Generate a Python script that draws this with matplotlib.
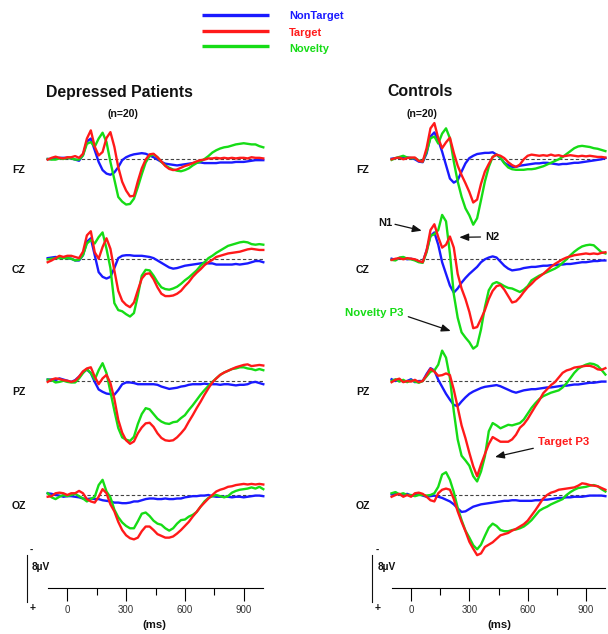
import numpy as np
import matplotlib
matplotlib.use("Agg")
import matplotlib.pyplot as plt

plt.rcParams['font.family'] = ['Liberation Sans', 'DejaVu Sans']
plt.rcParams['lines.scale_dashes'] = False

# ---------------- data (µV, negative plotted up) ----------------
time_ms = np.arange(-100, 1001, 20)
channels = ['FZ', 'CZ', 'PZ', 'OZ']
conditions = ['NonTarget', 'Target', 'Novelty']
groups = ['Depressed Patients', 'Controls']
group_n = ['(n=20)', '(n=20)']
tick_ms = [0, 300, 600, 900]
minor_tick_ms = [150, 450, 750]

dep_fz_nontarget = [0.0, 0.0, -0.1, -0.2, -0.2, -0.2, -0.1, 0.1,
                    0.3, -0.7, -3.0, -3.5, -1.5, 0.5, 1.9, 2.5,
                    2.7, 2.3, 1.4, 0.2, -0.3, -0.6, -0.8, -0.9,
                    -1.0, -0.9, -0.6, -0.3, 0.1, 0.5, 0.8, 0.9,
                    1.0, 1.1, 1.0, 0.9, 0.8, 0.7, 0.6, 0.6,
                    0.7, 0.7, 0.7, 0.7, 0.6, 0.6, 0.6, 0.6,
                    0.5, 0.5, 0.5, 0.4, 0.3, 0.2, 0.2, 0.2]
dep_fz_target = [0.1, -0.2, -0.4, -0.2, -0.1, -0.3, -0.3, -0.5,
                 -0.2, -0.9, -3.5, -4.9, -2.1, -0.6, -1.2, -3.6,
                 -4.6, -2.1, 1.4, 3.9, 5.4, 6.4, 6.3, 3.8,
                 1.6, 0.1, -0.8, -0.9, -0.3, 0.4, 1.2, 1.7,
                 1.9, 1.8, 1.5, 1.2, 1.0, 0.7, 0.4, 0.2,
                 0.1, -0.1, -0.1, -0.2, -0.1, -0.2, -0.1, -0.2,
                 -0.1, -0.2, -0.2, -0.1, -0.3, -0.2, -0.2, -0.1]
dep_fz_novelty = [0.0, 0.1, 0.1, -0.1, 0.0, -0.2, -0.1, 0.1,
                  0.1, -0.6, -2.6, -2.9, -2.1, -3.5, -4.5, -2.9,
                  0.5, 3.5, 6.5, 7.3, 7.8, 7.7, 6.8, 4.8,
                  2.6, 0.6, -0.5, -0.8, -0.3, 0.5, 1.1, 1.5,
                  1.8, 2.0, 2.1, 1.9, 1.6, 1.1, 0.7, 0.4,
                  0.0, -0.5, -1.1, -1.5, -1.8, -2.0, -2.1, -2.3,
                  -2.5, -2.6, -2.7, -2.6, -2.5, -2.5, -2.2, -2.0]

dep_cz_nontarget = [-0.2, -0.3, -0.4, -0.3, -0.3, -0.2, -0.1, 0.2,
                    0.2, -0.7, -3.0, -3.6, -0.7, 2.2, 3.0, 3.3,
                    3.0, 1.5, -0.2, -0.6, -0.7, -0.7, -0.6, -0.6,
                    -0.6, -0.5, -0.4, -0.2, 0.2, 0.6, 1.0, 1.4,
                    1.6, 1.5, 1.3, 1.1, 1.0, 0.9, 0.8, 0.7,
                    0.6, 0.7, 0.7, 0.9, 0.9, 0.9, 0.9, 0.9,
                    0.8, 0.9, 0.8, 0.7, 0.5, 0.3, 0.3, 0.5]
dep_cz_target = [0.5, 0.2, -0.2, -0.6, -0.4, -0.6, -0.6, -0.4,
                 -0.2, -1.3, -4.1, -4.8, -1.2, -0.1, -2.1, -3.6,
                 -1.8, 1.9, 5.4, 7.1, 7.8, 8.2, 7.4, 5.3,
                 3.3, 2.5, 2.4, 3.4, 4.8, 5.9, 6.3, 6.3,
                 6.2, 5.9, 5.4, 4.6, 3.9, 3.0, 2.3, 1.7,
                 1.0, 0.5, 0.1, -0.4, -0.6, -0.8, -1.0, -1.1,
                 -1.2, -1.3, -1.5, -1.7, -1.8, -1.7, -1.6, -1.6]
dep_cz_novelty = [0.0, -0.1, -0.2, -0.2, -0.2, -0.2, -0.1, 0.2,
                  0.1, -0.7, -2.7, -3.3, -2.7, -3.8, -4.6, -1.8,
                  1.5, 7.5, 8.7, 8.9, 9.4, 9.8, 9.2, 6.2,
                  2.8, 1.8, 1.9, 2.8, 3.9, 4.8, 5.1, 5.2,
                  5.0, 4.7, 4.2, 3.6, 3.1, 2.5, 1.9, 1.1,
                  0.5, -0.2, -0.6, -1.1, -1.5, -1.9, -2.3, -2.5,
                  -2.7, -2.9, -3.0, -2.9, -2.6, -2.5, -2.6, -2.5]

dep_pz_nontarget = [-0.3, -0.3, -0.2, -0.5, -0.3, -0.1, 0.1, -0.2,
                    -0.8, -1.6, -2.0, -1.4, 0.1, 1.4, 1.8, 2.1,
                    2.2, 2.3, 1.5, 0.5, 0.2, 0.2, 0.3, 0.5,
                    0.5, 0.5, 0.5, 0.5, 0.6, 0.9, 1.1, 1.3,
                    1.2, 1.1, 0.9, 0.8, 0.6, 0.5, 0.5, 0.5,
                    0.4, 0.5, 0.5, 0.5, 0.6, 0.5, 0.5, 0.6,
                    0.7, 0.6, 0.6, 0.5, 0.2, 0.1, 0.3, 0.5]
dep_pz_target = [0.1, -0.3, -0.5, -0.4, -0.2, -0.1, 0.1, -0.1,
                 -0.8, -1.7, -2.2, -2.4, -0.8, 0.5, -0.5, -1.1,
                 0.3, 3.0, 6.6, 8.8, 10.1, 10.7, 10.3, 8.9,
                 7.9, 7.2, 7.1, 7.8, 8.9, 9.7, 10.1, 10.2,
                 10.1, 9.6, 8.9, 8.1, 6.9, 5.8, 4.6, 3.5,
                 2.3, 1.2, 0.2, -0.5, -1.1, -1.5, -1.8, -2.1,
                 -2.4, -2.6, -2.8, -2.9, -2.6, -2.7, -2.8, -2.7]
dep_pz_novelty = [-0.3, -0.2, 0.2, 0.1, -0.1, 0.1, 0.2, 0.2,
                  -0.5, -1.4, -2.1, -1.4, -0.3, -1.9, -3.1, -1.4,
                  1.8, 5.0, 8.0, 9.6, 10.0, 10.2, 9.5, 7.3,
                  5.6, 4.6, 4.8, 5.6, 6.4, 6.9, 7.2, 7.3,
                  7.0, 6.9, 6.3, 5.8, 4.9, 4.1, 3.2, 2.3,
                  1.5, 0.8, 0.1, -0.5, -1.1, -1.5, -1.8, -2.1,
                  -2.2, -2.4, -2.4, -2.2, -2.1, -1.9, -2.1, -1.9]

dep_oz_nontarget = [-0.3, -0.2, 0.0, 0.1, 0.3, 0.2, 0.2, 0.3,
                    0.4, 0.6, 0.7, 0.6, 0.7, 0.7, 0.9, 1.0,
                    1.1, 1.3, 1.3, 1.4, 1.4, 1.3, 1.1, 1.1,
                    0.9, 0.7, 0.6, 0.6, 0.7, 0.7, 0.6, 0.7,
                    0.7, 0.6, 0.6, 0.4, 0.3, 0.2, 0.2, 0.1,
                    0.1, 0.0, 0.2, 0.3, 0.3, 0.3, 0.3, 0.4,
                    0.3, 0.3, 0.4, 0.3, 0.2, 0.1, 0.1, 0.2]
dep_oz_target = [0.3, 0.2, -0.3, -0.4, -0.3, 0.0, -0.3, -0.3,
                 -0.7, -0.3, 0.7, 1.1, 1.3, 0.3, -1.0, -0.3,
                 1.6, 2.8, 4.6, 6.0, 6.9, 7.4, 7.6, 7.3,
                 6.2, 5.4, 5.4, 6.0, 6.7, 7.0, 7.3, 7.3,
                 7.1, 6.6, 6.0, 5.3, 4.6, 3.7, 2.9, 2.0,
                 1.3, 0.6, 0.0, -0.6, -0.9, -1.1, -1.4, -1.5,
                 -1.7, -1.8, -1.9, -1.8, -1.9, -1.8, -1.9, -1.8]
dep_oz_novelty = [-0.3, 0.4, 0.7, 0.3, 0.0, 0.2, 0.0, -0.2,
                  0.2, 0.6, 1.1, 0.7, 0.3, -1.7, -2.6, -0.6,
                  0.4, 2.5, 3.8, 4.7, 5.3, 5.7, 5.7, 4.5,
                  3.2, 3.0, 3.6, 4.4, 4.9, 5.1, 5.7, 6.1,
                  5.7, 4.9, 4.3, 4.2, 3.7, 3.4, 2.9, 2.0,
                  1.1, 0.5, 0.2, 0.0, 0.2, 0.4, 0.2, -0.4,
                  -0.7, -0.9, -1.0, -1.1, -1.3, -1.1, -1.4, -1.0]

con_fz_nontarget = [0.0, -0.1, -0.2, -0.2, -0.2, -0.1, 0.1, 0.5,
                    0.6, -0.9, -3.8, -4.5, -3.2, -1.2, 1.1, 3.4,
                    4.1, 3.7, 2.2, 0.8, -0.1, -0.5, -0.8, -0.9,
                    -1.0, -1.0, -1.1, -0.7, -0.1, 0.7, 1.1, 1.4,
                    1.4, 1.2, 1.1, 1.0, 0.9, 0.8, 0.8, 0.7,
                    0.7, 0.8, 0.9, 1.0, 0.9, 0.9, 0.8, 0.7,
                    0.7, 0.6, 0.5, 0.4, 0.3, 0.2, 0.1, -0.1]
con_fz_target = [0.1, -0.1, -0.2, 0.1, -0.1, -0.2, -0.2, 0.4,
                 0.5, -1.8, -5.2, -6.1, -3.5, -1.8, -2.8, -3.6,
                 -1.0, 1.2, 2.8, 4.2, 5.7, 7.5, 7.0, 4.3,
                 2.2, 0.9, -0.3, -0.7, -0.5, -0.1, 0.6, 1.1,
                 1.4, 1.0, 0.1, -0.5, -0.7, -0.6, -0.5, -0.6,
                 -0.5, -0.7, -0.5, -0.6, -0.4, -0.5, -0.6, -0.5,
                 -0.4, -0.5, -0.4, -0.5, -0.4, -0.3, -0.3, -0.2]
con_fz_novelty = [0.2, -0.1, -0.3, -0.5, -0.2, -0.1, -0.1, 0.3,
                  0.5, -1.2, -3.5, -3.8, -2.6, -4.3, -5.2, -3.5,
                  0.5, 3.9, 6.5, 8.5, 9.7, 11.3, 10.2, 7.1,
                  3.9, 1.4, -0.3, -0.7, -0.2, 0.8, 1.5, 1.8,
                  1.9, 1.9, 1.9, 1.8, 1.8, 1.7, 1.5, 1.3,
                  1.0, 0.7, 0.4, 0.1, -0.3, -0.8, -1.3, -1.8,
                  -2.1, -2.2, -2.1, -2.0, -1.8, -1.7, -1.5, -1.3]

con_cz_nontarget = [-0.1, 0.1, -0.2, -0.3, 0.0, -0.1, 0.1, 0.4,
                    0.5, -1.5, -4.0, -4.6, -2.5, 0.5, 2.5, 4.5,
                    5.7, 5.0, 4.0, 3.2, 2.5, 1.9, 1.3, 0.5,
                    0.0, -0.3, -0.5, -0.3, 0.4, 1.1, 1.6, 1.9,
                    1.8, 1.7, 1.5, 1.4, 1.3, 1.3, 1.2, 1.1,
                    1.1, 1.0, 1.0, 0.9, 0.9, 0.8, 0.8, 0.7,
                    0.6, 0.5, 0.5, 0.4, 0.3, 0.3, 0.2, 0.2]
con_cz_target = [0.1, -0.1, -0.2, 0.0, -0.2, -0.1, 0.0, 0.3,
                 0.5, -1.5, -5.0, -6.0, -3.8, -2.0, -2.5, -3.9,
                 -2.0, 2.5, 5.0, 6.8, 9.0, 11.8, 11.6, 10.2,
                 8.7, 6.8, 5.4, 4.6, 4.4, 5.2, 6.3, 7.4,
                 7.2, 6.5, 5.6, 4.8, 4.2, 3.5, 3.0, 2.5,
                 1.9, 1.3, 0.8, 0.4, 0.0, -0.3, -0.5, -0.7,
                 -0.8, -0.9, -1.0, -0.9, -1.0, -0.9, -1.1, -1.2]
con_cz_novelty = [0.1, 0.2, -0.3, -0.4, -0.1, 0.0, 0.2, 0.5,
                  0.6, -1.2, -4.0, -4.3, -5.0, -7.6, -6.5, -1.0,
                  6.0, 10.0, 12.5, 13.4, 14.2, 15.3, 14.8, 12.0,
                  8.2, 5.3, 4.2, 3.9, 4.2, 4.6, 4.9, 5.0,
                  5.3, 5.6, 5.2, 4.6, 3.6, 3.2, 2.8, 2.5,
                  2.2, 1.9, 1.6, 1.2, 0.6, 0.0, -0.7, -1.3,
                  -1.8, -2.2, -2.4, -2.5, -2.4, -1.8, -1.2, -1.0]

con_pz_nontarget = [-0.3, 0.0, -0.2, 0.1, 0.0, -0.3, 0.2, 0.0,
                    0.0, -1.2, -2.2, -1.8, -0.2, 1.0, 2.2, 3.2,
                    4.1, 4.3, 3.5, 2.8, 2.2, 1.8, 1.5, 1.2,
                    1.0, 0.9, 0.8, 0.7, 0.9, 1.2, 1.5, 1.8,
                    2.0, 1.8, 1.6, 1.5, 1.4, 1.4, 1.3, 1.2,
                    1.1, 1.1, 1.0, 0.9, 0.8, 0.8, 0.7, 0.6,
                    0.6, 0.5, 0.4, 0.3, 0.3, 0.2, 0.1, 0.1]
con_pz_target = [0.2, -0.2, -0.4, 0.2, 0.0, 0.1, -0.2, 0.2,
                 0.0, -1.0, -2.1, -1.6, -0.9, -1.0, -1.3, -1.0,
                 1.5, 4.5, 7.6, 9.8, 12.3, 14.6, 16.3, 14.3,
                 12.5, 10.8, 9.6, 10.0, 10.4, 10.4, 10.4, 10.0,
                 9.2, 8.0, 7.4, 6.5, 5.4, 4.3, 3.3, 2.1,
                 1.4, 0.7, 0.2, -0.6, -1.4, -1.8, -2.0, -2.3,
                 -2.4, -2.5, -2.6, -2.6, -2.4, -2.0, -1.9, -2.2]
con_pz_novelty = [0.0, -0.3, 0.1, -0.2, 0.2, -0.1, 0.1, 0.3,
                  0.0, -0.8, -1.6, -1.8, -2.8, -5.2, -4.0, -0.5,
                  5.2, 10.0, 12.8, 13.6, 14.5, 16.3, 17.2, 15.5,
                  12.9, 8.6, 7.2, 7.6, 8.1, 7.8, 7.5, 7.6,
                  7.4, 7.2, 6.6, 5.6, 4.6, 3.8, 3.1, 2.6,
                  2.3, 2.0, 1.8, 1.6, 1.1, 0.4, -0.5, -1.4,
                  -2.1, -2.5, -2.8, -3.0, -2.9, -2.6, -1.9, -1.1]

con_oz_nontarget = [-0.1, -0.3, -0.1, 0.1, -0.2, 0.1, 0.0, -0.2,
                    0.1, 0.3, 0.2, 0.1, 0.3, 0.5, 0.8, 1.1,
                    1.6, 2.3, 2.9, 2.8, 2.4, 2.0, 1.8, 1.6,
                    1.5, 1.4, 1.3, 1.2, 1.1, 1.0, 1.0, 0.9,
                    0.9, 1.0, 1.0, 1.0, 1.0, 0.9, 0.9, 0.8,
                    0.8, 0.7, 0.6, 0.5, 0.5, 0.4, 0.4, 0.3,
                    0.3, 0.3, 0.2, 0.1, 0.1, 0.1, 0.1, 0.2]
con_oz_target = [0.3, 0.0, -0.2, 0.3, 0.0, 0.3, -0.3, -0.4,
                 -0.2, 0.3, 0.9, 1.1, -0.3, -0.9, -1.1, -0.9,
                 0.7, 2.8, 4.6, 6.2, 8.0, 9.2, 10.3, 10.0,
                 8.9, 8.5, 8.1, 7.5, 6.9, 6.7, 6.5, 6.1,
                 5.8, 5.4, 5.0, 4.4, 3.5, 2.6, 1.6, 0.6,
                 0.0, -0.4, -0.6, -0.9, -1.0, -1.1, -1.2, -1.3,
                 -1.6, -2.0, -1.9, -1.7, -1.6, -1.5, -1.2, -0.9]
con_oz_novelty = [-0.3, -0.5, -0.1, -0.3, 0.0, 0.0, 0.2, 0.0,
                  0.0, 0.1, 0.0, -0.3, -1.4, -3.5, -3.9, -2.6,
                  -0.5, 2.2, 4.3, 6.1, 7.3, 8.6, 9.3, 8.5,
                  7.0, 5.6, 4.9, 5.3, 6.0, 6.2, 6.2, 6.0,
                  5.9, 5.7, 5.4, 4.9, 4.3, 3.5, 2.7, 2.3,
                  2.0, 1.6, 1.3, 1.0, 0.7, 0.0, -0.5, -0.9,
                  -1.2, -1.3, -1.4, -1.6, -1.7, -1.5, -1.0, -0.6]

waves = {
    (0, 'FZ'): (dep_fz_nontarget, dep_fz_target, dep_fz_novelty),
    (0, 'CZ'): (dep_cz_nontarget, dep_cz_target, dep_cz_novelty),
    (0, 'PZ'): (dep_pz_nontarget, dep_pz_target, dep_pz_novelty),
    (0, 'OZ'): (dep_oz_nontarget, dep_oz_target, dep_oz_novelty),
    (1, 'FZ'): (con_fz_nontarget, con_fz_target, con_fz_novelty),
    (1, 'CZ'): (con_cz_nontarget, con_cz_target, con_cz_novelty),
    (1, 'PZ'): (con_pz_nontarget, con_pz_target, con_pz_novelty),
    (1, 'OZ'): (con_oz_nontarget, con_oz_target, con_oz_novelty),
}

# ---------------- styling / layout ----------------
W, H = 608, 634
BLUE, RED, GREEN = '#1a1aff', '#ff1a1a', '#16dc16'
COLORS = [BLUE, RED, GREEN]
ZORD = [2, 4, 3]
PX_PER_UV = 5.84
COL_X = [(47.7, 263.3), (391.6, 605.4)]
BASE_Y = [[159.0, 259.3, 381.3, 495.0], [158.7, 259.3, 381.0, 495.0]]
LABEL_X = [19.0, 363.0]
TITLE_X = [119.2, 420.3]
N_X = [122.5, 421.5]
SCALE_X = [26.7, 372.3]
MS_X = [154.7, 499.3]

fig = plt.figure(figsize=(W / 100, H / 100), dpi=100)
fig.patch.set_facecolor('white')


def px_axes(x0, y0, x1, y1):
    return fig.add_axes([x0 / W, 1 - y1 / H, (x1 - x0) / W, (y1 - y0) / H])


TOP_PX, BOT_PX = 70, 115
for gi in range(2):
    x0, x1 = COL_X[gi]
    for ci, ch in enumerate(channels):
        yb = BASE_Y[gi][ci]
        ax = px_axes(x0, yb - TOP_PX, x1, yb + BOT_PX)
        ax.set_xlim(-100, 1000)
        ax.set_ylim(BOT_PX / PX_PER_UV, -TOP_PX / PX_PER_UV)
        ax.axis('off')
        ax.patch.set_alpha(0)
        ax.axhline(0, color='#444444', lw=0.8, ls=(0, (2.4, 1.6)), zorder=1)
        for series, color, z in zip(waves[(gi, ch)], COLORS, ZORD):
            ax.plot(time_ms, series, color=color, lw=1.7, clip_on=False,
                    zorder=z, solid_joinstyle='round')

    # time axis
    axt = px_axes(x0, 578, x1, 588)
    axt.set_xlim(-100, 1000)
    axt.patch.set_alpha(0)
    for s in ['top', 'left', 'right']:
        axt.spines[s].set_visible(False)
    axt.spines['bottom'].set_linewidth(0.8)
    axt.set_yticks([])
    axt.set_xticks(tick_ms)
    axt.set_xticks(minor_tick_ms, minor=True)
    axt.set_xticklabels([str(v) for v in tick_ms])
    axt.tick_params(axis='x', which='major', direction='out', length=9.5,
                    width=0.8, pad=2.5, labelsize=7, labelcolor='#333333')
    axt.tick_params(axis='x', which='minor', direction='out', length=5,
                    width=0.8)

# ---------------- overlay (text, legend, arrows) ----------------
ov = fig.add_axes([0, 0, 1, 1])
ov.set_xlim(0, W)
ov.set_ylim(H, 0)
ov.axis('off')
ov.patch.set_alpha(0)

leg_y = [14.7, 31.3, 45.7]
leg_text_y = [18.7, 36.3, 52.0]
for name, col, ly, ty in zip(conditions, COLORS, leg_y, leg_text_y):
    ov.plot([201.7, 269.0], [ly, ly], color=col, lw=2.4, solid_capstyle='butt')
    ov.text(289.3, ty, name, color=col, fontsize=7.9, fontweight='bold',
            ha='left', va='baseline')

for gi in range(2):
    ov.text(TITLE_X[gi], 96.5, groups[gi], fontsize=11.4, fontweight='bold',
            ha='center', va='baseline', color='#111111')
    ov.text(N_X[gi], 117.0, group_n[gi], fontsize=7.6, fontweight='bold',
            ha='center', va='baseline', color='#111111')
    for ci, ch in enumerate(channels):
        ov.text(LABEL_X[gi], BASE_Y[gi][ci] + 14.0, ch, fontsize=7.6,
                fontweight='bold', ha='center', va='baseline', color='#111111')
    sx = SCALE_X[gi]
    ov.plot([sx, sx], [555.0, 601.7], color='#111111', lw=0.8)
    ov.text(sx + 5.0, 549.5, '-', fontsize=7, fontweight='bold',
            ha='center', va='center', color='#111111')
    ov.text(sx + 5.6, 608.0, '+', fontsize=7.5, fontweight='bold',
            ha='center', va='center', color='#111111')
    ov.text(sx + 5.0, 570.0, '8µV', fontsize=7.3, fontweight='bold',
            ha='left', va='baseline', color='#111111')
    ov.text(MS_X[gi], 625.0, '(ms)', fontsize=8.2, fontweight='bold',
            ha='center', va='center', color='#111111')

ap = dict(arrowstyle='-|>,head_length=0.55,head_width=0.22', color='#111111',
          lw=0.9, shrinkA=0, shrinkB=0, mutation_scale=10)
ov.annotate('', xy=(421.7, 230.7), xytext=(395.0, 224.3), arrowprops=ap)
ov.annotate('', xy=(459.3, 237.3), xytext=(480.5, 237.0), arrowprops=ap)
ov.annotate('', xy=(450.7, 331.0), xytext=(408.3, 316.7), arrowprops=ap)
ov.annotate('', xy=(495.0, 457.0), xytext=(533.3, 448.3), arrowprops=ap)
ov.text(378.3, 225.5, 'N1', fontsize=8, fontweight='bold', ha='left',
        va='baseline', color='#111111')
ov.text(485.0, 240.5, 'N2', fontsize=8, fontweight='bold', ha='left',
        va='baseline', color='#111111')
ov.text(345.0, 316.0, 'Novelty P3', fontsize=8.2, fontweight='bold',
        ha='left', va='baseline', color=GREEN)
ov.text(538.3, 445.0, 'Target P3', fontsize=8.2, fontweight='bold',
        ha='left', va='baseline', color=RED)

fig.savefig('out.png', dpi=100, facecolor='white')
